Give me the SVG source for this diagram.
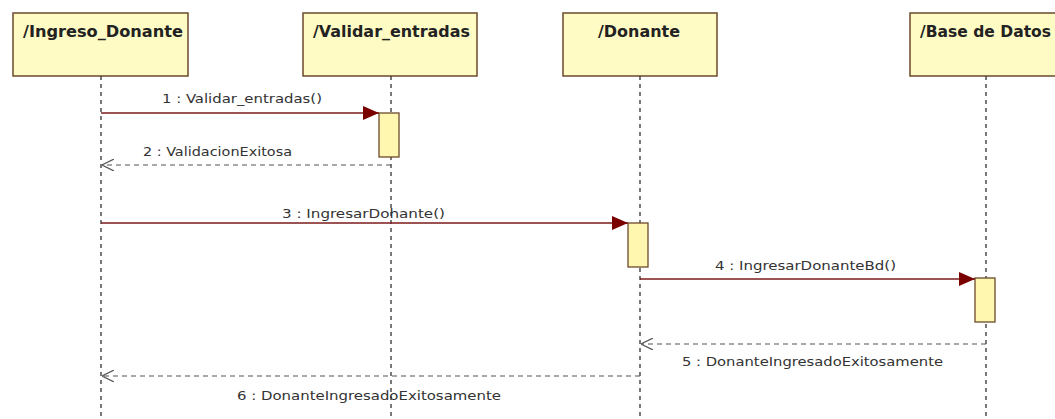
<svg xmlns="http://www.w3.org/2000/svg" width="1055" height="419" viewBox="0 0 1055 419">
<style>
.box{fill:#fffbc4;stroke:#6b4a2b;stroke-width:1.5}
.act{fill:#fff6b0;stroke:#6b4a2b;stroke-width:1.3}
.life{stroke:#333;stroke-width:1.3;stroke-dasharray:4 4;fill:none}
.title{font-family:"DejaVu Sans","Liberation Sans",sans-serif;font-weight:bold;font-size:15.5px;fill:#222}
.lbl{font-family:"DejaVu Sans Condensed","Liberation Sans",sans-serif;font-size:13px;fill:#333}
.call{stroke:#7a1a1a;stroke-width:1.5;fill:none}
.ret{stroke:#555;stroke-width:1.2;stroke-dasharray:5 4;fill:none}
</style>
<defs>
<marker id="filled" viewBox="0 0 16 14" refX="16" refY="7" markerWidth="16" markerHeight="14" markerUnits="userSpaceOnUse" orient="auto">
<path d="M0,0 L16,7 L0,14 Z" fill="#7a0000"/>
</marker>
<marker id="open" viewBox="0 0 12 12" refX="12" refY="6" markerWidth="12" markerHeight="12" markerUnits="userSpaceOnUse" orient="auto">
<path d="M0,0 L12,6 L0,12" fill="none" stroke="#555" stroke-width="1.2"/>
</marker>
</defs>
<rect width="1055" height="419" fill="#ffffff"/>
<g id="node-ingreso">
<rect class="box" x="13" y="13" width="175" height="63"/>
<text class="title" x="23" y="37" textLength="160" lengthAdjust="spacingAndGlyphs">/Ingreso_Donante</text>
<line class="life" x1="101" y1="76" x2="101" y2="419"/>
</g>
<g id="node-validar">
<rect class="box" x="303" y="13" width="174" height="63"/>
<text class="title" x="313" y="37" textLength="157" lengthAdjust="spacingAndGlyphs">/Validar_entradas</text>
<line class="life" x1="391" y1="76" x2="391" y2="419"/>
<rect class="act" x="379" y="113" width="20" height="44"/>
</g>
<g id="node-donante">
<rect class="box" x="563" y="13" width="154" height="63"/>
<text class="title" x="598" y="37" textLength="82" lengthAdjust="spacingAndGlyphs">/Donante</text>
<line class="life" x1="640" y1="76" x2="640" y2="419"/>
<rect class="act" x="628" y="223" width="20" height="44"/>
</g>
<g id="node-bd">
<rect class="box" x="910" y="13" width="154" height="63"/>
<text class="title" x="920" y="37" textLength="131" lengthAdjust="spacingAndGlyphs">/Base de Datos</text>
<line class="life" x1="986" y1="76" x2="986" y2="419"/>
<rect class="act" x="975" y="278" width="20" height="44"/>
</g>
<g id="connectors">
<line class="call" x1="101" y1="113" x2="379" y2="113" marker-end="url(#filled)"/>
<text class="lbl" x="162" y="103" textLength="160" lengthAdjust="spacingAndGlyphs">1 : Validar_entradas()</text>
<line class="ret" x1="391" y1="165" x2="102" y2="165" marker-end="url(#open)"/>
<text class="lbl" x="143" y="156" textLength="149" lengthAdjust="spacingAndGlyphs">2 : ValidacionExitosa</text>
<line class="call" x1="101" y1="223" x2="628" y2="223" marker-end="url(#filled)"/>
<text class="lbl" x="282" y="218" textLength="163" lengthAdjust="spacingAndGlyphs">3 : IngresarDohante()</text>
<line class="call" x1="640" y1="279" x2="975" y2="279" marker-end="url(#filled)"/>
<text class="lbl" x="715" y="270" textLength="181" lengthAdjust="spacingAndGlyphs">4 : IngresarDonanteBd()</text>
<line class="ret" x1="986" y1="344" x2="641" y2="344" marker-end="url(#open)"/>
<text class="lbl" x="682" y="366" textLength="261" lengthAdjust="spacingAndGlyphs">5 : DonanteIngresadoExitosamente</text>
<line class="ret" x1="640" y1="376" x2="102" y2="376" marker-end="url(#open)"/>
<text class="lbl" x="237" y="400" textLength="264" lengthAdjust="spacingAndGlyphs">6 : DonanteIngresadoExitosamente</text>
</g>
</svg>
